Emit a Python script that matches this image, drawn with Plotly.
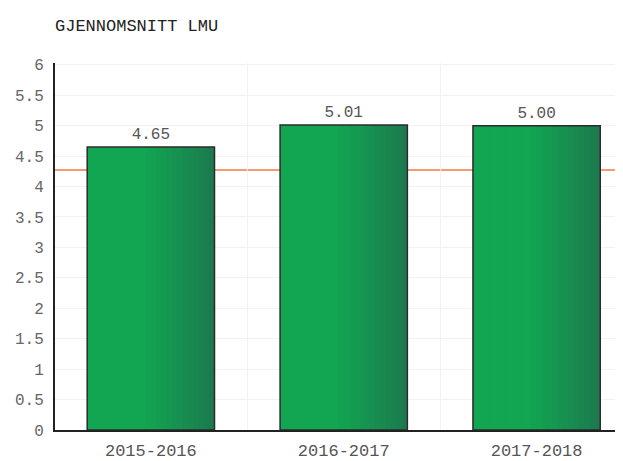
import plotly.graph_objects as go

# data
seasons = ["2015-2016", "2016-2017", "2017-2018"]
avg_lmu = [4.65, 5.01, 5.00]
reference_level = 4.27
y_ticks = [0, 0.5, 1, 1.5, 2, 2.5, 3, 3.5, 4, 4.5, 5, 5.5, 6]

MONO = "Liberation Mono, DejaVu Sans Mono, monospace"
BAR_W = 0.66
N_STRIPS = 24


def blend(c1, c2, t):
    return "rgb({},{},{})".format(*[round(a + (b - a) * t) for a, b in zip(c1, c2)])


light = (18, 166, 82)
dark = (28, 122, 78)

fig = go.Figure()

# horizontal gradient: stacked overlays, each starting further right
step = BAR_W / N_STRIPS
for i in range(N_STRIPS):
    t = i / (N_STRIPS - 1)
    g = max(0.0, (t - 0.4) / 0.6) ** 1.2
    fig.add_trace(go.Bar(
        x=seasons, y=avg_lmu,
        width=BAR_W - i * step,
        offset=-BAR_W / 2 + i * step,
        marker=dict(color=blend(light, dark, g), line=dict(width=0)),
        hoverinfo="skip", showlegend=False,
    ))

# outline + value labels
fig.add_trace(go.Bar(
    x=seasons, y=avg_lmu, width=BAR_W, offset=-BAR_W / 2,
    marker=dict(color="rgba(0,0,0,0)", line=dict(color="#2b2b2b", width=1.5)),
    texttemplate="%{y:.2f}", textposition="outside",
    textfont=dict(family=MONO, size=16, color="#555555"),
    cliponaxis=False, showlegend=False,
))

fig.add_hline(y=reference_level, line=dict(color="#f07a45", width=1.5), layer="below")

# page body adds an 8px margin, so the figure is sized/positioned accordingly
fig.update_layout(
    width=615, height=453,
    barmode="overlay",
    paper_bgcolor="white", plot_bgcolor="white",
    margin=dict(l=47, r=0, t=55, b=28),
    title=dict(text="GJENNOMSNITT LMU", x=47 / 615, xanchor="left", xref="container",
               y=1 - 17 / 453, yanchor="middle", yref="container",
               font=dict(family=MONO, size=17, color="#222222")),
    font=dict(family=MONO, color="#666666"),
)
fig.update_xaxes(range=[-0.497, 2.448], showline=True, linecolor="#222222", linewidth=2,
                 showgrid=True, gridcolor="#f2f2f2", tickson="boundaries", ticks="",
                 ticklabelstandoff=4,
                 tickfont=dict(family=MONO, size=17, color="#555555"))
fig.update_yaxes(range=[0, 6.03], tickvals=y_ticks, ticktext=[f"{v:g}" for v in y_ticks],
                 showline=True, linecolor="#222222", linewidth=2,
                 showgrid=True, gridcolor="#f2f2f2", zeroline=False, ticks="",
                 ticklabelstandoff=6,
                 tickfont=dict(family=MONO, size=16, color="#666666"))

fig.write_html("out.html")
